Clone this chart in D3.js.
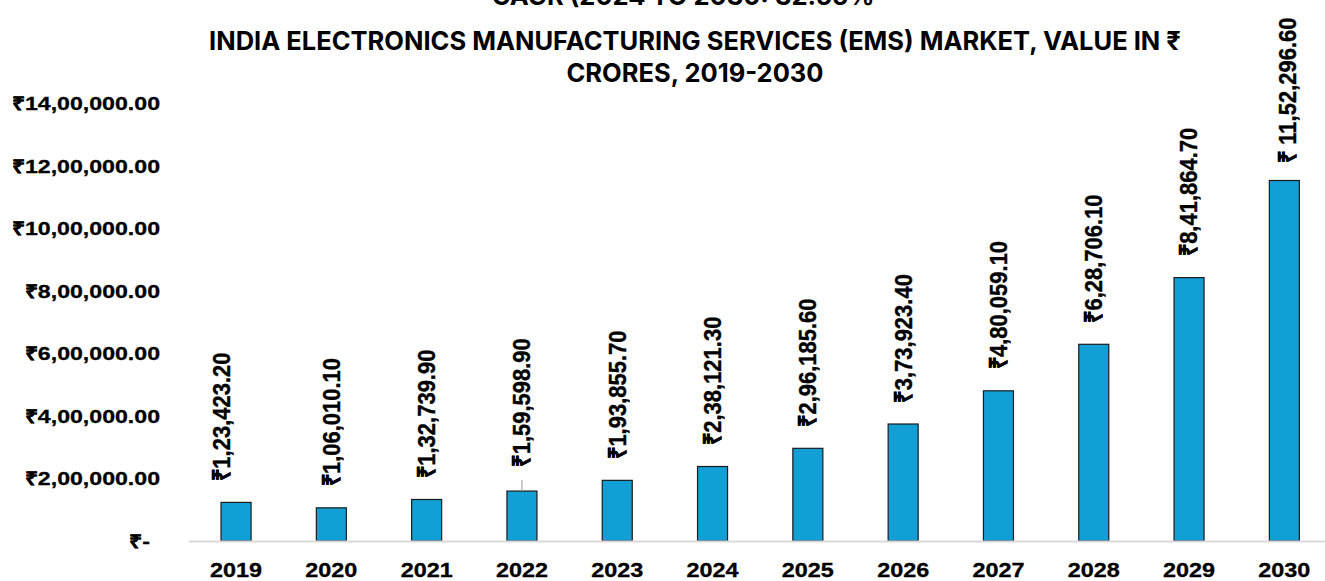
<!DOCTYPE html>
<html>
<head>
<meta charset="utf-8">
<script src="https://cdn.jsdelivr.net/npm/d3@7"></script>
<style>
  html, body { margin: 0; padding: 0; background: #fff; }
  svg { display: block; }
</style>
</head>
<body>
<svg id="chart" width="1325" height="581"></svg>
<script>
// Market value in ₹ crores by year
const years = ["2019", "2020", "2021", "2022", "2023", "2024", "2025", "2026", "2027", "2028", "2029", "2030"];
const values = [123423.2, 106010.1, 132739.9, 159598.9, 193855.7, 238121.3, 296185.6, 373923.4, 480059.1, 628706.1, 841864.7, 1152296.6];
const valueLabels = ["₹1,23,423.20", "₹1,06,010.10", "₹1,32,739.90", "₹1,59,598.90", "₹1,93,855.70", "₹2,38,121.30",
  "₹2,96,185.60", "₹3,73,923.40", "₹4,80,059.10", "₹6,28,706.10", "₹8,41,864.70", "₹ 11,52,296.60"];
const yTicks = [0, 200000, 400000, 600000, 800000, 1000000, 1200000, 1400000];
const yTickLabels = ["₹-", "₹2,00,000.00", "₹4,00,000.00", "₹6,00,000.00", "₹8,00,000.00", "₹10,00,000.00", "₹12,00,000.00", "₹14,00,000.00"];
const titleLines = ["INDIA ELECTRONICS MANUFACTURING SERVICES (EMS) MARKET, VALUE IN ₹", "CRORES, 2019-2030"];
const subtitle = "CAGR (2024 TO 2030: 32.55%";

const svg = d3.select("#chart");
const labelFont = "'Liberation Sans', Arial, sans-serif";
const titleFont = "Inter, 'Open Sans', sans-serif";
const wide = 1.2; // horizontal stretch of axis label glyphs

const x = d3.scaleBand().domain(years).range([188.4, 1332]).paddingInner(0.685).paddingOuter(0.3425);
const y = d3.scaleLinear().domain([0, 1400000]).range([541, 103]);

// titles
svg.append("text").attr("x", 683).attr("y", 5).attr("text-anchor", "middle")
  .attr("font-family", titleFont).attr("font-weight", 700).attr("font-size", 25.5).attr("fill", "#000")
  .text(subtitle);
svg.selectAll("text.title").data(titleLines).join("text").attr("class", "title")
  .attr("x", 695).attr("y", (d, i) => 50 + i * 32).attr("text-anchor", "middle")
  .attr("font-family", titleFont).attr("font-weight", 700).attr("font-size", 25.5).attr("fill", "#000")
  .text(d => d);

// y axis tick labels (no gridlines)
const yAxis = d3.axisLeft(y).tickValues(yTicks).tickSize(0).tickPadding(0)
  .tickFormat((d, i) => yTickLabels[i]);
const yg = svg.append("g").attr("transform", "translate(160,0)").call(yAxis);
yg.select(".domain").remove();
yg.selectAll("text").attr("font-family", labelFont).attr("font-weight", 700)
  .attr("font-size", 18.5).attr("fill", "#000").attr("stroke", "#000").attr("stroke-width", 0.3)
  .attr("dy", "0.35em").attr("x", d => d === 0 ? -8 : 0)
  .attr("transform", `scale(${wide + 0.05},1)`);

// bars
svg.append("g").selectAll("rect").data(years).join("rect")
  .attr("x", d => x(d)).attr("width", x.bandwidth())
  .attr("y", (d, i) => y(values[i])).attr("height", (d, i) => y(0) - y(values[i]))
  .attr("fill", "#129fd6").attr("stroke", "#1b1b1b").attr("stroke-width", 1.2);

// x axis
const xAxis = d3.axisBottom(x).tickSize(0).tickPadding(0);
const xg = svg.append("g").attr("transform", `translate(0,${y(0)})`).call(xAxis);
xg.select(".domain").attr("stroke", "#d9d9d9").attr("stroke-width", 2);
xg.selectAll("text").attr("font-family", labelFont).attr("font-weight", 700)
  .attr("font-size", 19.5).attr("fill", "#000").attr("stroke", "#000").attr("stroke-width", 0.3)
  .attr("y", 0).attr("dy", 36.5).attr("transform", `scale(${wide},1)`);

// value labels, rotated; a few were nudged by hand, 2022's with a leader line
const nudge = { "2019": { dx: -14, dy: 0 }, "2022": { dx: 0, dy: -3 }, "2030": { dx: 3, dy: 4 } };
const leader = { "2022": 11 };
const gap = 21.5;
const lg = svg.append("g");
years.forEach((yr, i) => {
  const cx = x(yr) + x.bandwidth() / 2;
  const top = y(values[i]);
  const n = nudge[yr] || { dx: 0, dy: 0 };
  if (leader[yr]) {
    lg.append("line").attr("x1", cx).attr("x2", cx).attr("y1", top).attr("y2", top - leader[yr])
      .attr("stroke", "#a6a6a6").attr("stroke-width", 1.2);
  }
  lg.append("text")
    .attr("transform", `translate(${cx + n.dx},${top - gap + n.dy}) scale(1.12,1) rotate(-90)`)
    .attr("dominant-baseline", "central")
    .attr("font-family", labelFont).attr("font-weight", 700).attr("font-size", 22)
    .attr("fill", "#000").attr("stroke", "#000").attr("stroke-width", 0.35)
    .text(valueLabels[i]);
});
</script>
</body>
</html>
